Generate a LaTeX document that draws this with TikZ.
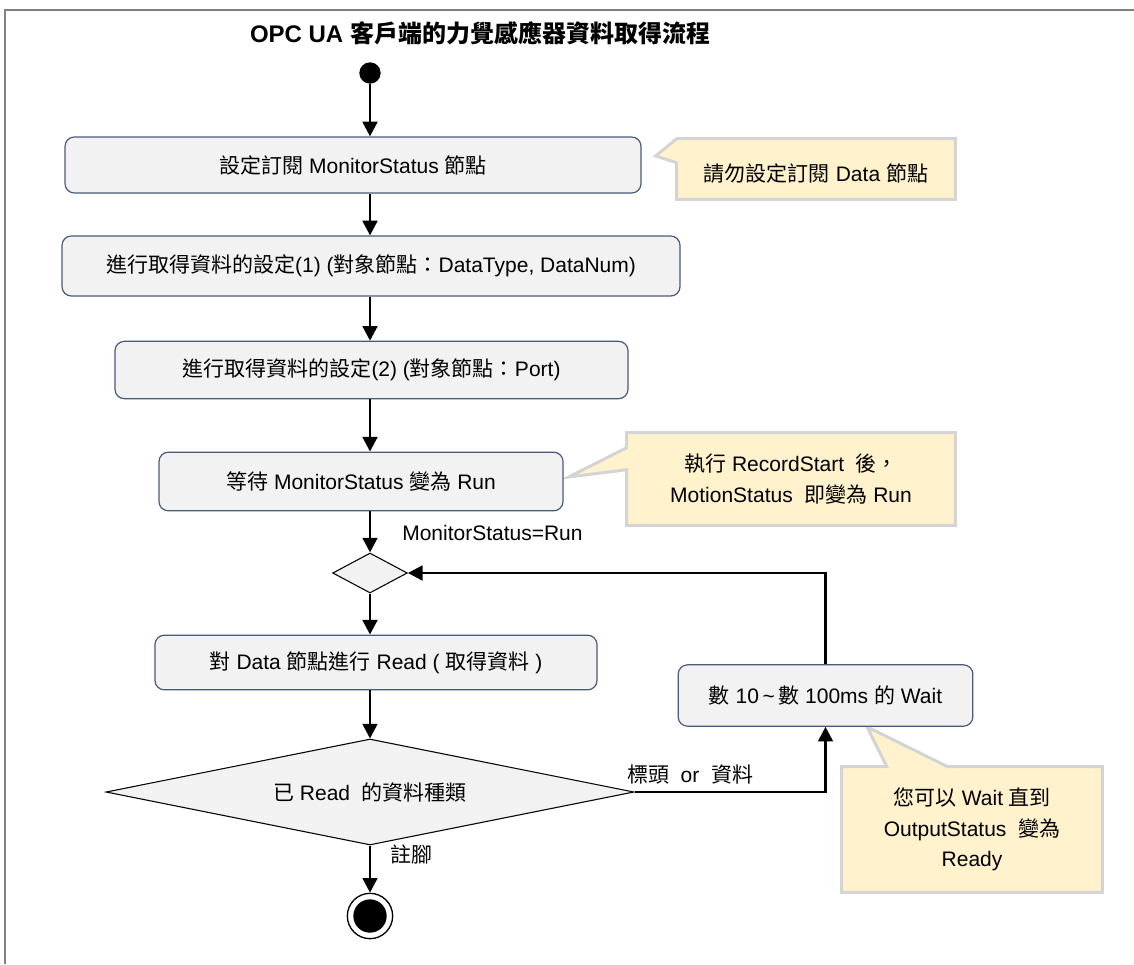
\documentclass[tikz,border=0pt]{standalone}
\usepackage{fontspec}
\setmainfont{Liberation Sans}
\newfontfamily\cjk[Language=Chinese Traditional]{Noto Sans CJK TC}
\usetikzlibrary{calc,arrows.meta,shapes.geometric,backgrounds}

\definecolor{boxfill}{HTML}{F2F2F2}
\definecolor{boxline}{HTML}{4A5A7A}
\definecolor{notefill}{HTML}{FFF2CC}
\definecolor{noteline}{HTML}{D4D4D4}
\definecolor{frameline}{HTML}{808080}

\begin{document}
\begin{tikzpicture}[x=0.75pt,y=-0.75pt,
    font=\fontsize{15.75}{19}\selectfont,
    act/.style={draw=boxline,fill=boxfill,rounded corners=7pt,line width=0.9pt,inner sep=0pt},
    choice/.style={diamond,draw=black,fill=boxfill,line width=0.8pt,inner sep=0pt,aspect=5},
    notetext/.style={inner sep=0pt,align=center,font=\fontsize{15.75}{23}\selectfont},
    notebg/.style={fill=notefill,draw=noteline,line width=2.25pt,line join=miter},
    flow/.style={line width=2.1pt,-{Triangle[length=11pt,width=11pt]}},
    lbl/.style={inner sep=0pt}]
  \useasboundingbox (0,0) rectangle (1134,964);
  \draw[frameline,line width=1.5pt] (5,964) -- (5,10) -- (1134,10);

  \node[font=\fontsize{18}{22}\selectfont\bfseries] (title) at (480,33)
    {OPC UA {\cjk 客戶端的力覺感應器資料取得流程}};

  % start / end
  \node[circle,fill,inner sep=0pt,minimum size=16pt] (start) at (370,73) {};
  \node[circle,draw,line width=1pt,inner sep=0pt,minimum size=34pt] (stop) at (370,916) {};
  \fill (stop.center) circle (12.5pt);

  % actions
  \node[act,minimum width=432pt,minimum height=42pt] (subscribe) at (353,165)
    {{\cjk 設定訂閱} MonitorStatus {\cjk 節點}};
  \node[act,minimum width=463.5pt,minimum height=45pt] (setup1) at (371,266)
    {{\cjk 進行取得資料的設定}(1) ({\cjk 對象節點：}DataType, DataNum)};
  \node[act,minimum width=384.75pt,minimum height=43pt] (setup2) at (371.5,370)
    {{\cjk 進行取得資料的設定}(2) ({\cjk 對象節點：}Port)};
  \node[act,minimum width=303pt,minimum height=44pt] (waitrun) at (361,481.5)
    {{\cjk 等待} MonitorStatus {\cjk 變為} Run};
  \node[choice,minimum width=56pt,minimum height=30pt] (merge) at (370,573) {};
  \node[act,minimum width=331.5pt,minimum height=41pt] (read) at (376,662.5)
    {{\cjk 對} Data {\cjk 節點進行} Read ( {\cjk 取得資料} )};
  \node[choice,minimum width=396pt,minimum height=79.5pt] (kind) at (370,792)
    {{\cjk 已} Read\ \ {\cjk 的資料種類}};
  \node[act,minimum width=221pt,minimum height=46pt] (pause) at (825.5,695.5)
    {{\cjk 數} 10\,\textasciitilde\,{\cjk 數} 100ms {\cjk 的} Wait};

  % notes
  \node[notetext,minimum width=208.5pt,minimum height=45pt,text height=20pt] (note1) at (816,169)
    {{\cjk 請勿設定訂閱} Data {\cjk 節點}};
  \node[notetext,minimum width=246pt,minimum height=69pt] (note2) at (791,479)
    {{\cjk 執行} RecordStart\ \ {\cjk 後，}\\MotionStatus\ \ {\cjk 即變為} Run};
  \node[notetext,minimum width=195pt,minimum height=93.75pt] (note3) at (972,829.5)
    {{\cjk 您可以} Wait {\cjk 直到}\\OutputStatus\ \ {\cjk 變為}\\Ready};
  \begin{scope}[on background layer]
    \draw[notebg] (note1.north west) -- ($(subscribe.east)+(14,-9)$)
      -- ($(note1.north west)+(0,24)$) -- (note1.south west)
      -- (note1.south east) -- (note1.north east) -- cycle;
    \draw[notebg] ($(note2.north west)+(0,15)$) -- ($(waitrun.east)+(5,-4.5)$)
      -- ($(note2.north west)+(0,37)$) -- (note2.south west)
      -- (note2.south east) -- (note2.north east) -- (note2.north west) -- cycle;
    \draw[notebg] ($(note3.north west)+(45,0)$) -- ($(pause.south)+(41.5,0)$)
      -- ($(note3.north west)+(106,0)$) -- (note3.north east)
      -- (note3.south east) -- (note3.south west) -- (note3.north west) -- cycle;
  \end{scope}

  % flow
  \draw[flow] (start) -- (start |- subscribe.north);
  \draw[flow] (subscribe.south -| start) -- (setup1.north -| start);
  \draw[flow] (setup1.south -| start) -- (setup2.north -| start);
  \draw[flow] (setup2.south -| start) -- (waitrun.north -| start);
  \draw[flow] (waitrun.south -| start) -- (merge.north);
  \node[lbl,anchor=west] (isrun) at (402,533) {MonitorStatus=Run};
  \draw[flow] (merge.south) -- (read.north -| merge);
  \draw[flow] (read.south -| merge) -- (kind.north);
  \draw[flow] (kind.south) -- (stop.north);
  \node[lbl,anchor=west] (footnote) at (390,855) {\cjk 註腳};
  \draw[flow] (kind.east) -| (pause.south);
  \node[lbl] (headdata) at (690,774) {{\cjk 標頭}\ \ or\ \ {\cjk 資料}};
  \draw[flow] (pause.north) |- (merge.east);
\end{tikzpicture}
\end{document}
